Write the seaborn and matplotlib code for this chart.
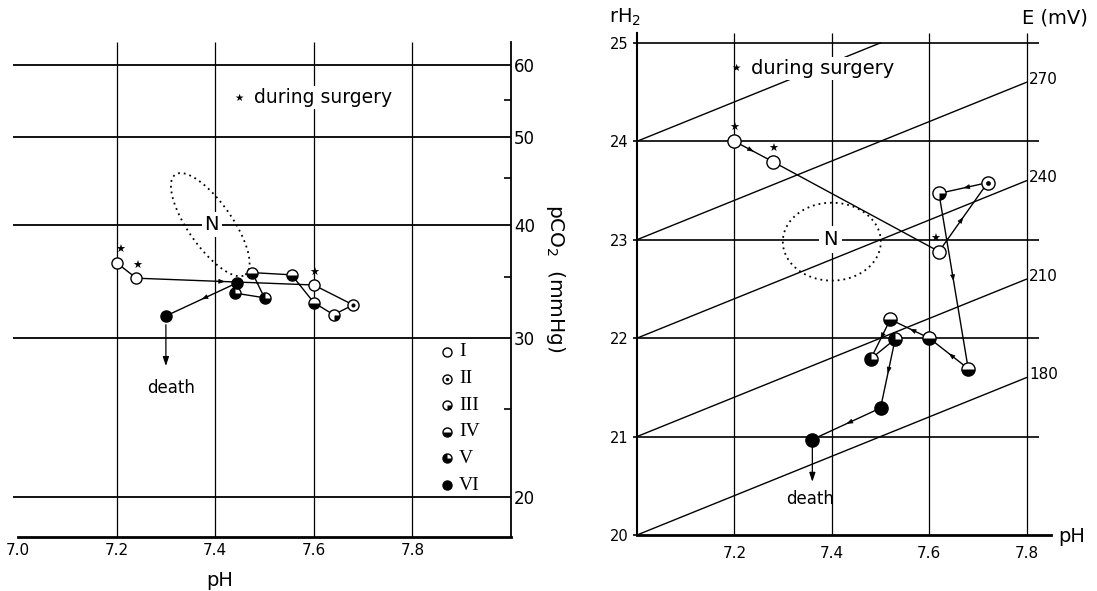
import numpy as np
import pandas as pd
import matplotlib
matplotlib.use("Agg")
import matplotlib.pyplot as plt
import seaborn as sns
from matplotlib.markers import MarkerStyle
from matplotlib.path import Path
from matplotlib.ticker import FixedLocator, NullFormatter

sns.set_theme(style="white")
plt.rcParams["font.family"] = ["DejaVu Sans"]
plt.rcParams["mathtext.default"] = "regular"
for key in ["text.color", "axes.labelcolor", "xtick.color", "ytick.color", "axes.edgecolor"]:
    plt.rcParams[key] = "black"

# ------------------------------------------------------------------
# Data
# ------------------------------------------------------------------
STAGES = ["I", "II", "III", "IV", "V", "VI"]

# left panel: pH vs pCO2 (log scale), trajectory in time order
left_ph = [7.20, 7.24, 7.60, 7.68, 7.64, 7.60, 7.555, 7.475, 7.50, 7.44, 7.445, 7.30]
left_pco2 = [36.3, 34.9, 34.3, 32.6, 31.8, 32.8, 35.2, 35.4, 33.2, 33.6, 34.5, 31.7]
left_stage = ["I", "I", "I", "II", "III", "IV", "IV", "IV", "V", "V", "VI", "VI"]
left_surgery = [True, True, True] + [False] * 9

# right panel: pH vs rH2, trajectory in time order
right_ph = [7.20, 7.28, 7.62, 7.72, 7.62, 7.68, 7.60, 7.52, 7.48, 7.53, 7.50, 7.36]
right_rh2 = [24.0, 23.79, 22.88, 23.58, 23.47, 21.69, 22.0, 22.19, 21.79, 21.99, 21.29, 20.97]
right_stage = ["I", "I", "I", "II", "III", "IV", "IV", "IV", "V", "V", "VI", "VI"]
right_surgery = [True, True, True] + [False] * 9

left_xticks = [7.0, 7.2, 7.4, 7.6, 7.8]
left_xgrid = [7.2, 7.4, 7.6, 7.8]
left_yticks = [20, 30, 40, 50, 60]
left_yminor = [25, 35, 45, 55]

right_xticks = [7.2, 7.4, 7.6, 7.8]
right_yticks = [20, 21, 22, 23, 24, 25]
right_hgrid = [21, 22, 23, 24, 25]
e_start_rh2 = [20, 21, 22, 23, 24]
e_labels = ["180", "210", "240", "270", ""]

# segments (index of start point) that carry a small direction arrow
left_arrow_segs = [1, 10]
right_arrow_segs = [0, 2, 3, 4, 5, 6, 7, 9, 10]

# ------------------------------------------------------------------
# helpers
# ------------------------------------------------------------------
WEDGES = {"III": Path.wedge(270, 360), "IV": Path.wedge(180, 360), "V": Path.wedge(90, 360)}


def stage_marker(ax, x, y, stage, ms, transform=None):
    kw = {} if transform is None else {"transform": transform}
    face = "black" if stage == "VI" else "white"
    ax.plot([x], [y], "o", ms=ms, mfc=face, mec="black", mew=1.0, zorder=5, **kw)
    if stage == "II":
        ax.plot([x], [y], "o", ms=ms * 0.3, mfc="black", mec="black", mew=0.5, zorder=6, **kw)
    elif stage in WEDGES:
        ax.plot([x], [y], marker=MarkerStyle(WEDGES[stage]), ms=ms, mfc="black",
                mec="none", zorder=6, **kw)


def mid_arrows(ax, xs, ys, segs, log_y=False, frac=0.5):
    for i in segs:
        x0, x1 = xs[i], xs[i + 1]
        y0, y1 = (np.log(ys[i]), np.log(ys[i + 1])) if log_y else (ys[i], ys[i + 1])
        pa = (x0 + (x1 - x0) * (frac - 0.05), y0 + (y1 - y0) * (frac - 0.05))
        pb = (x0 + (x1 - x0) * frac, y0 + (y1 - y0) * frac)
        if log_y:
            pa = (pa[0], np.exp(pa[1]))
            pb = (pb[0], np.exp(pb[1]))
        ax.annotate("", xy=pb, xytext=pa,
                    arrowprops=dict(arrowstyle="-|>,head_length=0.32,head_width=0.12",
                                    color="black", lw=0.5, shrinkA=0, shrinkB=0))


def dotted_ellipse(ax, cx, cy, a_px, b_px, angle, px_x, px_y, log_y=False):
    t = np.linspace(0, 2 * np.pi, 300)
    th = np.deg2rad(angle)
    dx = a_px * np.cos(t) * np.cos(th) - b_px * np.sin(t) * np.sin(th)
    dy = a_px * np.cos(t) * np.sin(th) + b_px * np.sin(t) * np.cos(th)
    xs = cx + dx / px_x
    ys = cy * np.exp(dy / px_y) if log_y else cy + dy / px_y
    ax.plot(xs, ys, ls=(0, (1, 2.2)), color="black", lw=1.3, zorder=3)


def star_marks(ax, xs, ys, flags, offsets):
    for x, y, f, off in zip(xs, ys, flags, offsets):
        if f:
            ax.annotate("★", xy=(x, y), xytext=off, textcoords="offset points",
                        ha="center", va="center", fontsize=8, zorder=7)


W, H = 1097, 591
fig = plt.figure(figsize=(W / 100, H / 100), dpi=100)
fig.patch.set_facecolor("white")

# ------------------------------------------------------------------
# Left panel: pH / pCO2
# ------------------------------------------------------------------
axL = fig.add_axes([18 / W, 1 - 537 / H, (511 - 18) / W, (537 - 42) / H])
axL.set_yscale("log")
axL.set_xlim(7.0, 8.0)
axL.set_ylim(18.05, 63.7)
for s in ["left", "top"]:
    axL.spines[s].set_visible(False)
axL.spines["bottom"].set_linewidth(2.0)
axL.spines["right"].set_linewidth(1.3)

axL.hlines(left_yticks, 6.99, 8.0, color="black", lw=1.3, zorder=1, clip_on=False)
axL.vlines(left_xgrid, 18.05, 63.7, color="black", lw=0.9, zorder=1)

axL.set_xticks(left_xticks)
axL.set_xticklabels([f"{v:.1f}" for v in left_xticks])
axL.tick_params(axis="x", length=0, pad=4, labelsize=11)
axL.yaxis.tick_right()
axL.yaxis.set_major_locator(FixedLocator(left_yticks))
axL.set_yticklabels([str(v) for v in left_yticks])
axL.yaxis.set_minor_locator(FixedLocator(left_yminor))
axL.yaxis.set_minor_formatter(NullFormatter())
axL.tick_params(axis="y", which="major", length=0, pad=2, labelsize=12)
axL.tick_params(axis="y", which="minor", direction="in", length=5, width=1.2, right=True)

dfL = pd.DataFrame({"pH": left_ph, "pCO2": left_pco2})
sns.lineplot(data=dfL, x="pH", y="pCO2", sort=False, estimator=None,
             color="black", lw=1.0, ax=axL, zorder=4)
axL.set_xlabel("")
axL.set_ylabel("")
for x, y, st in zip(left_ph, left_pco2, left_stage):
    stage_marker(axL, x, y, st, 8)
mid_arrows(axL, left_ph, left_pco2, left_arrow_segs, log_y=True)
star_marks(axL, left_ph, left_pco2, left_surgery, [(2.5, 9.5), (0.5, 9), (0, 9)])

dotted_ellipse(axL, 7.39, 40, 61, 22, -55, 493, 392, log_y=True)
axL.text(7.393, 40, "N", ha="center", va="center", fontsize=14, zorder=4,
         bbox=dict(boxstyle="square,pad=0.15", fc="white", ec="none"))

axL.annotate("", xy=(left_ph[-1], 27.9), xytext=(left_ph[-1], 31.0),
             arrowprops=dict(arrowstyle="-|>,head_length=0.45,head_width=0.15",
                             color="black", lw=0.9, shrinkA=0, shrinkB=0))
axL.text(7.31, 26.4, "death", ha="center", va="center", fontsize=12)

axL.text(7.448, 55.3, "★", ha="center", va="center", fontsize=7.5)
axL.text(7.478, 55.3, "during surgery", ha="left", va="center", fontsize=13.5,
         bbox=dict(boxstyle="square,pad=0.1", fc="white", ec="none"))

# legend (drawn by hand, in axes fraction)
for k, st in enumerate(STAGES):
    yy = 0.374 - k * 0.0538
    stage_marker(axL, 0.870, yy, st, 6.5, transform=axL.transAxes)
    axL.text(0.895, yy, st, transform=axL.transAxes, ha="left", va="center",
             fontsize=14, family=["Liberation Serif", "DejaVu Serif"])

axL.text(0.41, -0.087, "pH", transform=axL.transAxes, ha="center", va="center", fontsize=14)
fig.text(556 / W, 1 - 278 / H, "pCO$_2$  (mmHg)", rotation=270, ha="center",
         va="center", fontsize=14.5)

# ------------------------------------------------------------------
# Right panel: pH / rH2 with isopotential lines
# ------------------------------------------------------------------
axR = fig.add_axes([637 / W, 1 - 535 / H, (1051 - 637) / W, (535 - 33) / H])
axR.set_xlim(7.0, 7.85)
axR.set_ylim(20, 25.1)
for s in ["right", "top"]:
    axR.spines[s].set_visible(False)
axR.spines["bottom"].set_linewidth(2.0)
axR.spines["left"].set_linewidth(1.5)

axR.hlines(right_hgrid, 7.0, 7.825, color="black", lw=1.2, zorder=1)
axR.vlines(right_xticks, 20, 25.1, color="black", lw=0.9, zorder=1)

for r0, lab in zip(e_start_rh2, e_labels):
    x_end = min(7.8, 7.0 + (25 - r0) / 2.0)
    xs = np.array([7.0, x_end])
    axR.plot(xs, r0 + 2 * (xs - 7.0), color="black", lw=1.0, zorder=2)
    if lab:
        axR.text(7.805, r0 + 2 * 0.8 + 0.03, lab, ha="left", va="center", fontsize=11)

axR.set_xticks(right_xticks)
axR.set_xticklabels([f"{v:.1f}" for v in right_xticks])
axR.tick_params(axis="x", length=0, pad=8, labelsize=11)
axR.set_yticks(right_yticks)
axR.set_yticklabels([str(v) for v in right_yticks])
axR.tick_params(axis="y", length=3, width=1.2, direction="out", left=True, pad=3, labelsize=10.5)

dfR = pd.DataFrame({"pH": right_ph, "rH2": right_rh2})
sns.lineplot(data=dfR, x="pH", y="rH2", sort=False, estimator=None,
             color="black", lw=1.0, ax=axR, zorder=4)
axR.set_xlabel("")
axR.set_ylabel("")
for x, y, st in zip(right_ph, right_rh2, right_stage):
    stage_marker(axR, x, y, st, 9.5)
mid_arrows(axR, right_ph, right_rh2, right_arrow_segs)
star_marks(axR, right_ph, right_rh2, right_surgery, [(0, 9.5), (0, 9.5), (-3, 9)])

dotted_ellipse(axR, 7.40, 22.98, 49, 39, 0, 487, 98.5)
axR.text(7.397, 23.0, "N", ha="center", va="center", fontsize=14, zorder=4,
         bbox=dict(boxstyle="square,pad=0.2", fc="white", ec="none"))

axR.annotate("", xy=(right_ph[-1], 20.54), xytext=(right_ph[-1], 20.89),
             arrowprops=dict(arrowstyle="-|>,head_length=0.45,head_width=0.15",
                             color="black", lw=0.9, shrinkA=0, shrinkB=0))
axR.text(7.356, 20.37, "death", ha="center", va="center", fontsize=12)

axR.text(7.204, 24.74, "★", ha="center", va="center", fontsize=7.5)
axR.text(7.235, 24.74, "during surgery", ha="left", va="center", fontsize=14, zorder=6,
         bbox=dict(boxstyle="square,pad=0.12", fc="white", ec="none"))

axR.text(6.975, 25.26, "rH$_2$", ha="center", va="center", fontsize=14, clip_on=False)
axR.text(7.858, 25.25, "E (mV)", ha="center", va="center", fontsize=14, clip_on=False)
axR.text(7.865, 19.98, "pH", ha="left", va="center", fontsize=14, clip_on=False)

fig.savefig("out.png", dpi=100, facecolor="white")
